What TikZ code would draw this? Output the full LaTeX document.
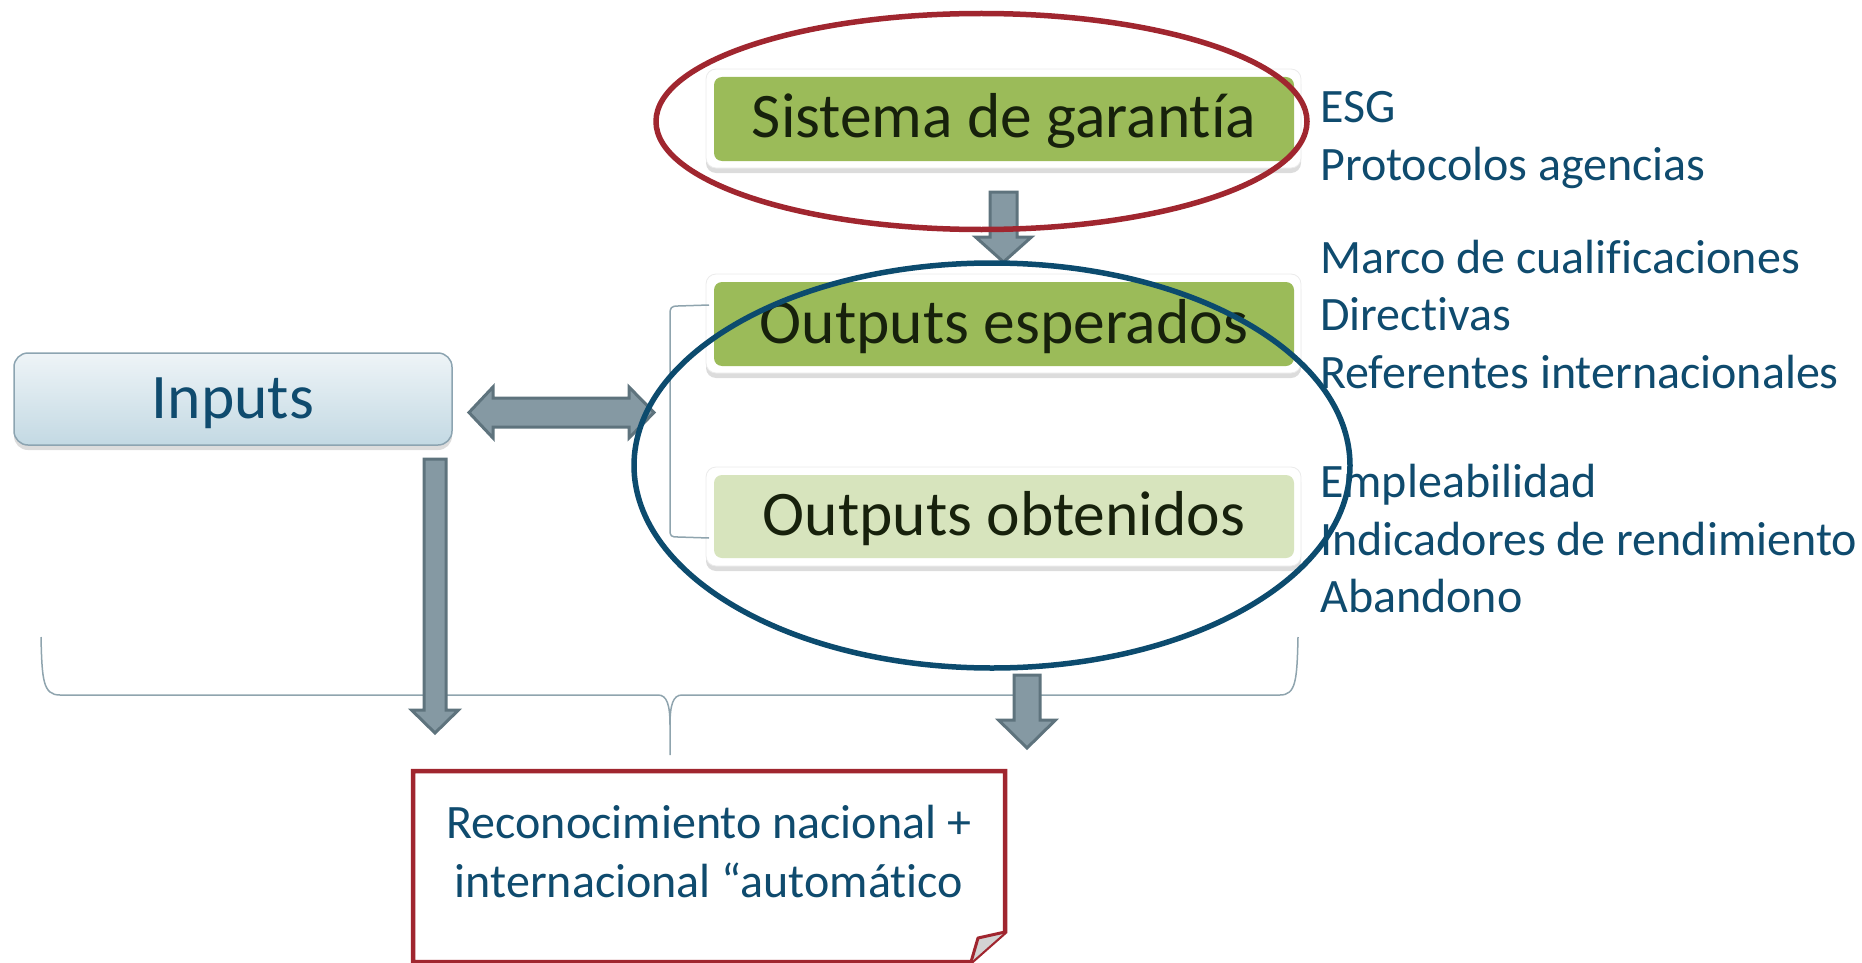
\documentclass[tikz,border=0pt]{standalone}
\usepackage{fontspec}
\setmainfont{Carlito}[Ligatures={NoCommon}]
\usetikzlibrary{shapes.geometric,shadows,calc}
\definecolor{grn}{HTML}{9BBB59}
\definecolor{lgrn}{HTML}{D7E4BD}
\definecolor{dtext}{HTML}{17210C}
\definecolor{btext}{HTML}{0F4B6E}
\definecolor{bell}{HTML}{0C4B6E}
\definecolor{rred}{HTML}{A0262F}
\definecolor{arrfill}{HTML}{8599A3}
\definecolor{arrdraw}{HTML}{5E737D}
\definecolor{brc}{HTML}{8FA4AE}
\definecolor{intop}{HTML}{EEF4F7}
\definecolor{inbot}{HTML}{C3D9E3}
\definecolor{inbord}{HTML}{8CA4B1}
\definecolor{foldgray}{HTML}{D3D3D3}
\newcommand\bigfont{\fontsize{63.5pt}{70pt}\selectfont}
\newcommand\listfont{\fontsize{48pt}{57pt}\selectfont}
\newcommand\blockdown[6]{%
  \draw[grayarr] (#1-#5,#2) -- (#1+#5,#2) -- (#1+#5,#3) -- (#1+#6,#3) -- (#1,#4) -- (#1-#6,#3) -- (#1-#5,#3) -- cycle;}
\begin{document}
\begin{tikzpicture}[x=1pt,y=-1pt,
  whitebox/.style={draw=black!8, line width=0.8pt, fill=white, rounded corners=10pt, inner sep=0pt,
    drop shadow={shadow xshift=0pt, shadow yshift=-5pt, opacity=0.28}},
  greenbox/.style={draw=none, rounded corners=8pt, text=dtext, font=\bigfont,
    text height=44pt, text depth=6pt, inner sep=0pt},
  grayarr/.style={fill=arrfill, draw=arrdraw, line width=3pt, line join=miter},
  bracel/.style={draw=brc, line width=1.5pt},
  listtxt/.style={anchor=base west, inner sep=0pt, text=btext, font=\listfont},
  rectxt/.style={anchor=base, inner sep=0pt, text=btext, font=\listfont}]
\useasboundingbox (0,0) rectangle (1862,963);

% green boxes
\node (sisw) [whitebox, minimum width=595pt, minimum height=99pt] at (1003.5,118.5) {};
\node (sis) [greenbox, fill=grn, minimum width=580pt, minimum height=84pt] at (1004,119) {Sistema de garantía};
\node (espw) [whitebox, minimum width=595pt, minimum height=99pt] at (1003.5,323.5) {};
\node (esp) [greenbox, fill=grn, minimum width=580pt, minimum height=84pt] at (1004,324) {Outputs esperados};
\node (obtw) [whitebox, minimum width=595pt, minimum height=99pt] at (1003.5,516.5) {};
\node (obt) [greenbox, fill=lgrn, minimum width=580pt, minimum height=83pt] at (1004,516.5) {Outputs obtenidos};

% inputs
\node (inp) [rounded corners=14pt, draw=inbord, line width=1.5pt, top color=intop, bottom color=inbot,
  drop shadow={shadow xshift=0pt, shadow yshift=-5pt, opacity=0.28},
  minimum width=438pt, minimum height=92pt, inner sep=0pt, text=btext, font=\bigfont,
  text height=44pt, text depth=6pt] at (233,399) {Inputs};

% small bracket
\draw[bracel] (709,305) -- (678,306) .. controls (671,306) and (670,308) .. (670,314)
  -- (670,530) .. controls (670,536) and (671,537) .. (678,537) -- (709,538);

% big brace
\coordinate (brL) at (41,637);
\coordinate (brR) at (1298,637);
\coordinate (brT) at (670,755);
\draw[bracel] (brL) .. controls (42,680) and (43,695) .. (60,695) -- (658,695)
  .. controls (667,695) and (670,705) .. (670,725) -- (brT);
\draw[bracel] (670,725) .. controls (670,705) and (673,695) .. (682,695) -- (1280,695)
  .. controls (1296,695) and (1297,680) .. (brR);

% block arrows
\coordinate (a1s) at (1003.5,192);
\blockdown{1003.5}{192}{237}{262}{13.5}{28}
\coordinate (a2s) at (435,459);
\blockdown{435}{459}{710}{733}{11}{23.5}
\coordinate (a3s) at (1027,675);
\blockdown{1027}{675}{720}{748}{13}{28.5}
\coordinate (dl) at (469,412.5);
\coordinate (dr) at (654,412.5);
\draw[grayarr] (dl) -- (493,387) -- (493,398) -- (629,398) -- (629,387) -- (dr)
  -- (629,438) -- (629,427) -- (493,427) -- (493,438) -- cycle;

% recognition box
\draw[line width=4.5pt, draw=rred, fill=white, line join=miter]
  (413,771) -- (1005,771) -- (1005,932) -- (971,962) -- (413,962) -- cycle;
\draw[rred, line width=3pt, fill=foldgray, line join=round] (1005,932) -- (978,938) -- (971,962);
\node (rec1) [rectxt] at (709,838) {Reconocimiento nacional +};
\node (rec2) [rectxt] at (709,897) {internacional “automático};

% right lists
\node (l1) [listtxt] at (1320,122) {ESG};
\node (l2) [listtxt] at (1320,180) {Protocolos agencias};
\node (l3) [listtxt] at (1320,273) {Marco de cualificaciones};
\node (l4) [listtxt] at (1320,330.5) {Directivas};
\node (l5) [listtxt] at (1320,388) {Referentes internacionales};
\node (l6) [listtxt] at (1320,497) {Empleabilidad};
\node (l7) [listtxt] at (1320,555) {Indicadores de rendimiento};
\node (l8) [listtxt] at (1320,612) {Abandono};

% ellipses
\node (ered) [draw=rred, line width=5.5pt, ellipse, inner sep=0pt, minimum width=651pt, minimum height=216pt] at (981.5,121.5) {};
\node (eblue) [draw=bell, line width=5.5pt, ellipse, inner sep=0pt, minimum width=716pt, minimum height=405pt] at (992,465.5) {};
\end{tikzpicture}
\end{document}
